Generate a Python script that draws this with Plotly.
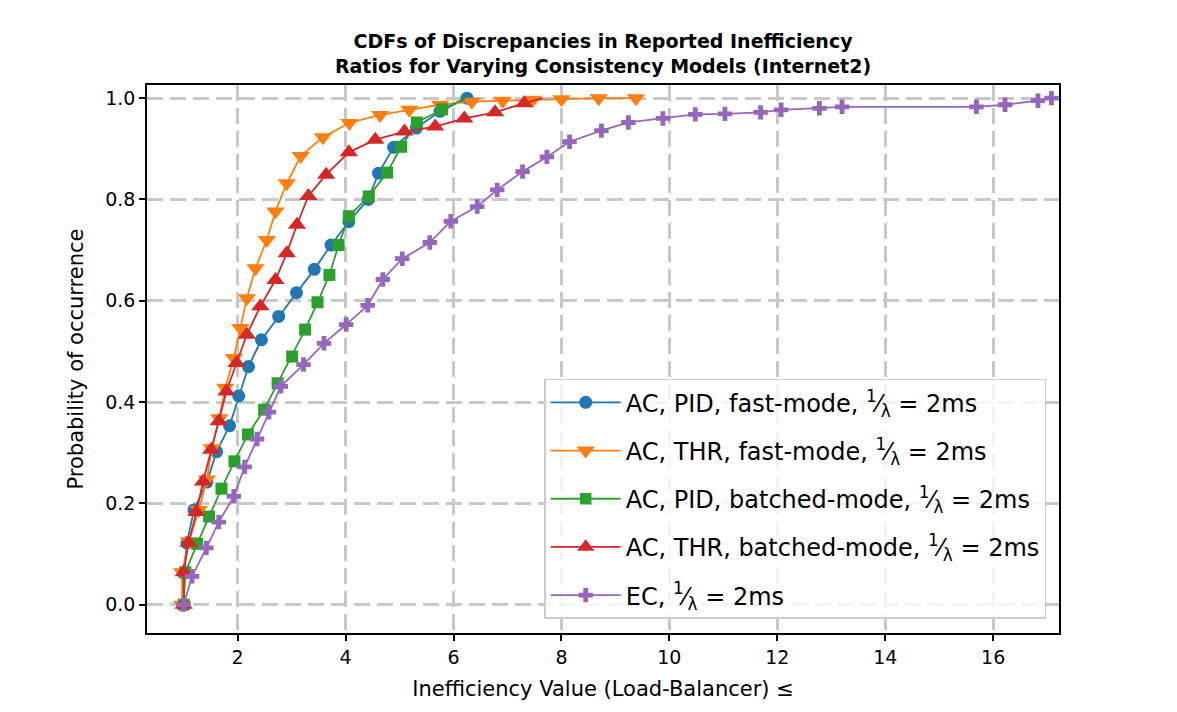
import plotly.graph_objects as go

# ---------------- data ----------------
pid_fast_x = [1.0, 1.0, 1.06, 1.19, 1.43, 1.61, 1.85, 2.02, 2.20, 2.44, 2.76, 3.09, 3.42, 3.73, 4.06,
              4.42, 4.61, 4.89, 5.31, 5.75, 6.25]
pid_fast_y = [0.0, 0.062, 0.122, 0.187, 0.242, 0.302, 0.353, 0.412, 0.47, 0.523, 0.569, 0.616, 0.662,
              0.71, 0.756, 0.80, 0.852, 0.903, 0.941, 0.974, 1.0]

thr_fast_x = [0.97, 0.97, 1.10, 1.28, 1.43, 1.52, 1.66, 1.77, 1.93, 2.05, 2.17, 2.33, 2.54, 2.70, 2.91,
              3.17, 3.58, 4.07, 4.64, 5.18, 5.75, 6.34, 6.91, 7.47, 8.0, 8.69, 9.38]
thr_fast_y = [0.0, 0.064, 0.125, 0.187, 0.247, 0.309, 0.368, 0.428, 0.487, 0.546, 0.605, 0.664, 0.72,
              0.776, 0.832, 0.886, 0.923, 0.951, 0.967, 0.977, 0.987, 0.993, 0.995, 0.997, 0.998, 1.0, 1.0]

pid_batch_x = [1.0, 1.03, 1.25, 1.47, 1.70, 1.94, 2.19, 2.49, 2.74, 3.01, 3.25, 3.48, 3.70, 3.87, 4.06,
               4.43, 4.77, 5.03, 5.32, 5.79, 6.22]
pid_batch_y = [0.0, 0.064, 0.12, 0.174, 0.229, 0.283, 0.336, 0.385, 0.437, 0.49, 0.543, 0.597, 0.651,
               0.71, 0.767, 0.806, 0.853, 0.904, 0.952, 0.978, 1.0]

thr_batch_x = [1.0, 1.0, 1.09, 1.235, 1.36, 1.51, 1.65, 1.79, 1.98, 2.17, 2.42, 2.70, 2.91, 3.10, 3.31,
               3.64, 4.06, 4.55, 5.09, 5.66, 6.20, 6.77, 7.31, 7.65]
thr_batch_y = [0.0, 0.064, 0.122, 0.183, 0.243, 0.306, 0.362, 0.421, 0.477, 0.533, 0.589, 0.641, 0.694,
               0.75, 0.807, 0.849, 0.893, 0.918, 0.934, 0.944, 0.96, 0.972, 0.99, 1.0]

ec_x = [1.0, 1.155, 1.42, 1.65, 1.93, 2.13, 2.36, 2.58, 2.80, 3.22, 3.60, 4.01, 4.41, 4.69, 5.05, 5.56,
        5.95, 6.44, 6.81, 7.28, 7.73, 8.15, 8.74, 9.24, 9.88, 10.48, 11.03, 11.69, 12.07, 12.78, 13.20,
        15.69, 16.22, 16.83, 17.08]
ec_y = [0.0, 0.056, 0.112, 0.163, 0.214, 0.272, 0.327, 0.38, 0.431, 0.474, 0.516, 0.553, 0.591, 0.642,
        0.683, 0.715, 0.757, 0.786, 0.819, 0.855, 0.884, 0.914, 0.936, 0.952, 0.96, 0.968, 0.969, 0.972,
        0.977, 0.980, 0.983, 0.983, 0.987, 0.995, 1.0]

x_ticks = [2, 4, 6, 8, 10, 12, 14, 16]
y_ticks = [0.0, 0.2, 0.4, 0.6, 0.8, 1.0]

frac = "<sup>1</sup>\u2044<sub>\u03bb</sub> = 2ms"
names = [
    "AC, PID, fast-mode, " + frac,
    "AC, THR, fast-mode, " + frac,
    "AC, PID, batched-mode, " + frac,
    "AC, THR, batched-mode, " + frac,
    "EC, " + frac,
]
colors = ["#1f77b4", "#ff7f0e", "#2ca02c", "#d62728", "#9467bd"]
symbols = ["circle", "triangle-down", "square", "triangle-up", "cross"]
msizes = [13, 16, 12, 16, 12]

series = [(pid_fast_x, pid_fast_y), (thr_fast_x, thr_fast_y), (pid_batch_x, pid_batch_y),
          (thr_batch_x, thr_batch_y), (ec_x, ec_y)]
# series whose final line point carries no marker
no_last_marker = {2, 3}

fig = go.Figure()
for i, ((xs, ys), name, c, s, ms) in enumerate(zip(series, names, colors, symbols, msizes)):
    sizes = [ms] * len(xs)
    if i in no_last_marker:
        sizes[-1] = 0
    fig.add_trace(go.Scatter(
        x=xs, y=ys, mode="lines+markers", name=name,
        line=dict(color=c, width=1.8),
        marker=dict(symbol=s, size=sizes, color=c, opacity=1, line=dict(width=0)),
        legendgroup=str(i),
    ))

grid_color = "#c8c8c8"
axis_common = dict(
    showline=True, linecolor="black", linewidth=1.5, mirror=True,
    ticks="outside", ticklen=6, tickwidth=1.5, tickcolor="black",
    showgrid=True, gridcolor=grid_color, gridwidth=3, griddash="16px,7px",
    zeroline=False,
    tickfont=dict(family="DejaVu Sans", size=19, color="black"),
)

fig.update_xaxes(range=[0.32, 17.22], tickvals=x_ticks,
                 title=dict(text="Inefficiency Value (Load-Balancer) \u2264",
                            font=dict(family="DejaVu Sans", size=21, color="black"), standoff=15),
                 **axis_common)
fig.update_yaxes(range=[-0.056, 1.026], tickvals=y_ticks, tickformat=".1f",
                 title=dict(text="Probability of occurrence",
                            font=dict(family="DejaVu Sans", size=21, color="black"), standoff=16),
                 **axis_common)

fig.update_layout(
    width=1177, height=712,
    margin=dict(l=147, r=118, t=85, b=79),
    paper_bgcolor="white", plot_bgcolor="white",
    font=dict(family="DejaVu Sans", color="black"),
    title=dict(text="<b>CDFs of Discrepancies in Reported Inefficiency</b><br>"
                    "<b>Ratios for Varying Consistency Models (Internet2)</b>",
               x=0.5, xref="paper", xanchor="center",
               y=1 - 48 / 712, yref="container", yanchor="top",
               font=dict(family="DejaVu Sans", size=19, color="black")),
    legend=dict(x=0.986, y=0.026, xanchor="right", yanchor="bottom",
                bgcolor="rgba(255,255,255,0.8)", bordercolor="#cccccc", borderwidth=1.5,
                font=dict(family="DejaVu Sans", size=24, color="black"),
                tracegroupgap=14, itemwidth=70),
    showlegend=True,
)

fig.write_html("out.html")
